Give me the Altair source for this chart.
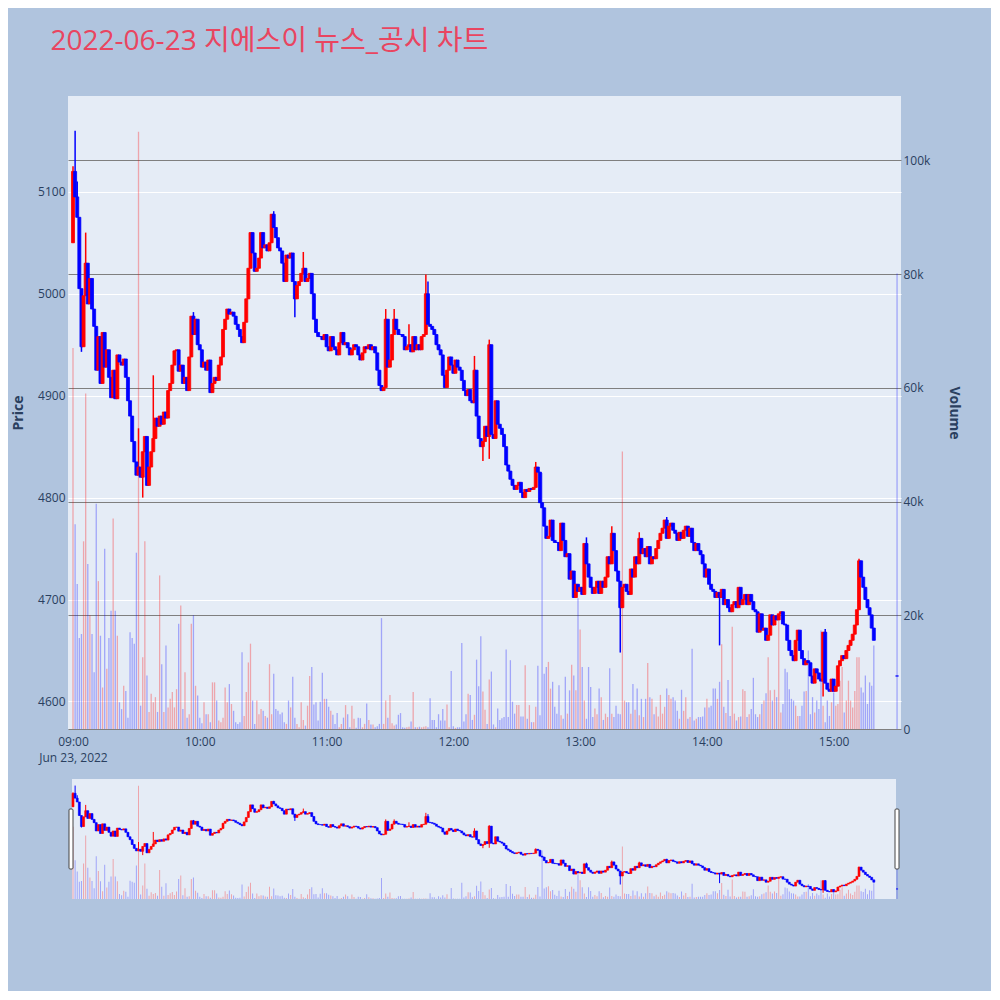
import altair as alt
import pandas as pd

TITLE = "2022-06-23 지에스이 뉴스_공시 차트"
SESSION_START = "2022-06-23 09:00"
AUCTION_TIME = "2022-06-23 15:30"

FIRST_OPEN = 5050
# one close per minute, 09:00 .. 15:19
close = [
    5120, 5095, 5075, 5005, 4948, 4998, 5030, 4990, 5015, 4985,
    4968, 4925, 4958, 4912, 4962, 4928, 4945, 4918, 4898, 4925,
    4897, 4940, 4933, 4930, 4936, 4918, 4895, 4880, 4855, 4835,
    4822, 4830, 4820, 4845, 4860, 4812, 4830, 4845, 4858, 4878,
    4870, 4880, 4872, 4884, 4878, 4905, 4912, 4930, 4944, 4945,
    4924, 4930, 4912, 4918, 4905, 4938, 4978, 4960, 4975, 4950,
    4945, 4928, 4933, 4925, 4935, 4903, 4912, 4918, 4915, 4930,
    4938, 4965, 4975, 4985, 4980, 4982, 4978, 4970, 4965, 4958,
    4952, 4972, 4995, 5025, 5060, 5040, 5022, 5025, 5035, 5060,
    5045, 5048, 5042, 5050, 5078, 5065, 5055, 5045, 5042, 5030,
    5012, 5038, 5035, 5040, 5012, 4995, 5008, 5012, 5020, 5025,
    5012, 5015, 5020, 5000, 4975, 4962, 4958, 4958, 4955, 4960,
    4948, 4944, 4958, 4948, 4945, 4940, 4952, 4962, 4950, 4952,
    4947, 4940, 4945, 4950, 4948, 4940, 4935, 4942, 4948, 4946,
    4950, 4945, 4948, 4942, 4925, 4910, 4905, 4908, 4975, 4928,
    4935, 4960, 4975, 4965, 4960, 4960, 4958, 4945, 4948, 4950,
    4943, 4958, 4945, 4950, 4945, 4958, 4960, 5000, 4970, 4968,
    4965, 4960, 4950, 4945, 4940, 4920, 4908, 4925, 4938, 4930,
    4922, 4935, 4928, 4925, 4915, 4905, 4900, 4906, 4895, 4893,
    4925, 4880, 4858, 4850, 4855, 4870, 4860, 4950, 4862, 4858,
    4895, 4872, 4868, 4862, 4850, 4832, 4826, 4818, 4812, 4808,
    4812, 4815, 4805, 4800, 4808, 4806, 4809, 4808, 4810, 4830,
    4825, 4795, 4790, 4772, 4760, 4762, 4778, 4758, 4756, 4756,
    4748, 4775, 4758, 4742, 4745, 4720, 4728, 4702, 4715, 4708,
    4712, 4705, 4755, 4735, 4722, 4712, 4706, 4712, 4718, 4706,
    4718, 4712, 4722, 4742, 4735, 4765, 4748, 4728, 4718, 4692,
    4712, 4715, 4708, 4705, 4730, 4722, 4742, 4735, 4760, 4745,
    4750, 4742, 4752, 4735, 4742, 4740, 4750, 4758, 4765, 4770,
    4778, 4760, 4772, 4775, 4768, 4765, 4758, 4766, 4760, 4768,
    4772, 4762, 4770, 4756, 4748, 4755, 4748, 4744, 4735, 4722,
    4730, 4715, 4710, 4708, 4702, 4707, 4702, 4710, 4695, 4700,
    4692, 4688, 4695, 4698, 4692, 4712, 4695, 4700, 4705, 4695,
    4705, 4698, 4690, 4688, 4668, 4686, 4670, 4672, 4660, 4665,
    4685, 4675, 4684, 4680, 4686, 4688, 4676, 4675, 4660, 4650,
    4645, 4640, 4660, 4670, 4650, 4642, 4636, 4640, 4638, 4625,
    4618, 4632, 4628, 4622, 4620, 4668, 4618, 4612, 4610, 4622,
    4610, 4615, 4635, 4640, 4645, 4642, 4650, 4655, 4660, 4666,
    4675, 4690, 4738, 4722, 4712, 4700, 4692, 4685, 4672, 4660,
]
AUCTION_PRICE = 4625

# minute index -> wick extreme
wick_high = {0: 5125, 1: 5160, 2: 5110, 6: 5060, 31: 4868, 38: 4920, 57: 4982,
             95: 5081, 109: 5041, 148: 4985, 152: 4985, 159: 4970, 167: 5019,
             168: 5012, 190: 4939, 197: 4955, 219: 4835, 243: 4761, 255: 4772,
             268: 4766, 281: 4781, 356: 4671, 372: 4740}
wick_low = {4: 4943, 33: 4800, 105: 4977, 194: 4836, 197: 4838, 259: 4648,
            306: 4655, 355: 4605}

# volume in thousands of shares, one per minute
volume_k = [
    67, 36, 25.5, 16, 16.7, 33, 59, 29, 20, 16.7,
    10, 39.6, 26, 16.4, 7.3, 31.7, 10.6, 16, 20.8, 37,
    20.8, 16.4, 4.7, 3.5, 7.6, 6.7, 2, 17, 16, 15,
    31, 105, 4.1, 12.6, 33, 9.4, 3, 6.2, 4.7, 5.6,
    3, 27, 11.4, 3, 14.7, 3.8, 5.3, 6.5, 3.8, 7,
    18.5, 21.7, 3.5, 10, 2, 2.6, 18.5, 20, 7.6, 5.9,
    2, 1, 4.7, 2.6, 2.6, 1.2, 8.2, 8.2, 5, 1.5,
    1.2, 2, 7.3, 4.7, 7.9, 4.4, 3.2, 1.2, 0.9, 1.2,
    13.5, 2.3, 6.5, 11.7, 15, 5, 0.9, 5, 2.6, 3.5,
    3.2, 2.3, 2, 11.4, 2.6, 9.7, 3.5, 3.2, 2.6, 2.9,
    1.2, 0.9, 5, 3.8, 9.2, 2, 0.9, 0.3, 4.7, 1.6,
    0.6, 4.1, 9.3, 10.9, 4.3, 4.7, 1.5, 4.8, 9.9, 5.3,
    5.3, 3.9, 3.2, 2.5, 0.9, 2.8, 0.3, 0.9, 2, 4.2,
    2.6, 0.3, 4.1, 1.8, 0.2, 2, 1.9, 0.3, 0.9, 4.5,
    1.6, 0.8, 0.8, 0.3, 0.5, 0.9, 19.5, 0.9, 5, 2,
    6, 1, 0.6, 0.8, 2.5, 2.8, 0.3, 0.2, 0.3, 0.4,
    1.3, 6.5, 0.3, 0.3, 0.4, 0.3, 0.4, 0.5, 0.3, 5.4,
    1.6, 1.6, 0.3, 2.6, 1.5, 3.5, 1.5, 4.3, 0.3, 10.2,
    0.5, 0.2, 0.3, 0.3, 15.1, 1.3, 2.6, 6.2, 6, 1.6,
    2.5, 12.2, 7.5, 16.3, 6.6, 3.4, 0.9, 8.7, 10.1, 0.8,
    0.3, 3.6, 1.6, 1.9, 2.1, 14, 2.1, 12.1, 4.8, 2.7,
    4.2, 4.2, 2.2, 2.2, 11.2, 1.8, 4.2, 1.2, 1.2, 3.9,
    11.1, 2.4, 45, 9.7, 10.9, 11.8, 7.1, 8.3, 3.9, 2.7,
    7.7, 2.4, 1.8, 9.2, 2.7, 6.8, 11.3, 9.4, 6.8, 23,
    17.5, 10.9, 5, 1.8, 10.9, 7.4, 2.1, 3.6, 2.6, 7.1,
    5.6, 1.6, 2.7, 2.1, 10.7, 2.7, 2.1, 4.1, 2.7, 2.6,
    48.8, 5, 4.7, 4.7, 2.7, 7.9, 3.4, 7.1, 2.4, 5.3,
    2.1, 5.3, 11.6, 5.6, 5.3, 2.6, 3.9, 2.2, 6, 2.7,
    3.9, 7.1, 6, 5.3, 5.6, 5, 3.2, 1.8, 6.9, 3.2,
    5.6, 1.8, 2.1, 14.1, 1.5, 1.8, 2.1, 2.1, 2.2, 3.8,
    5.3, 3.8, 4.1, 7.1, 7.1, 5.3, 8.3, 14.9, 3.9, 2.8,
    8.6, 2.3, 18, 2.7, 1.5, 2.1, 2.2, 7, 6.7, 2.1,
    2.6, 3.5, 9, 2.6, 2.1, 2.6, 4.4, 5, 6.3, 12.6,
    6.8, 5, 6.9, 5.6, 19.4, 2.9, 4.4, 10.6, 10, 7,
    5.3, 5, 4.1, 2.3, 2.3, 4.1, 6.6, 6.7, 13.8, 2.6,
    5.6, 2.9, 5, 3.5, 17.3, 4.1, 1.2, 5, 2.3, 4.7,
    6.4, 4.1, 4.4, 8.5, 10.9, 2.9, 5, 8.5, 5, 3.8,
    6.7, 12.6, 12.6, 7.3, 6.4, 9.4, 4.4, 8.2, 7.6, 14.7,
]
AUCTION_VOLUME_K = 80.1

price_ticks = [4600, 4700, 4800, 4900, 5000, 5100]
volume_ticks = [0, 20, 40, 60, 80, 100]
hour_ticks = [9, 10, 11, 12, 13, 14, 15]

# ---- table ----
times = list(pd.date_range(SESSION_START, periods=len(close), freq="min")) + [pd.Timestamp(AUCTION_TIME)]
closes = close + [AUCTION_PRICE]
opens = [FIRST_OPEN] + close[:-1] + [AUCTION_PRICE]
highs, lows, dirs = [], [], []
for i, (o, c) in enumerate(zip(opens, closes)):
    highs.append(max(o, c, wick_high.get(i, o)))
    lows.append(min(o, c, wick_low.get(i, o)))
    dirs.append("up" if c > o else "down")
df = pd.DataFrame({"t": times, "open": opens, "high": highs, "low": lows,
                   "close": closes, "vol": volume_k + [AUCTION_VOLUME_K], "dir": dirs})

FONT = "Open Sans"
KFONT = "Open Sans, Noto Sans CJK KR"
AX = "#2a3f5f"


def dt(h, m=0, s=0):
    return alt.DateTime(year=2022, month=6, date=23, hours=h, minutes=m, seconds=s)


x_scale = alt.Scale(domain=[dt(8, 57, 38), dt(15, 31, 52)], nice=False, padding=0)
price_scale = alt.Scale(domain=[4573, 5194], nice=False, zero=False)
vol_scale = alt.Scale(domain=[0, 111.3], nice=False)
color_scale = alt.Scale(domain=["up", "down"], range=["#ff0000", "#0000ff"])

x_axis = alt.Axis(
    values=[dt(h) for h in hour_ticks],
    labelExpr="hours(datum.value) == 9 ? [timeFormat(datum.value, '%H:%M'), timeFormat(datum.value, '%b %d, %Y')] : timeFormat(datum.value, '%H:%M')",
    grid=False, ticks=False, domain=False, labelPadding=7, labelLineHeight=16,
    labelFont=FONT, labelFontSize=12, labelColor=AX, title=None,
    labelFlush=False, labelOverlap=False,
)
price_axis = alt.Axis(
    orient="left", values=price_ticks, format="d", grid=True, gridColor="#ffffff",
    gridWidth=1, ticks=False, domain=False, labelFont=FONT, labelFontSize=12,
    labelColor=AX, labelPadding=3, title="Price", titleFont=FONT,
    titleFontSize=14, titleFontWeight="bold", titleColor=AX, titlePadding=12,
)
vol_axis = alt.Axis(
    orient="right", values=volume_ticks,
    labelExpr="datum.value == 0 ? '0' : datum.value + 'k'",
    grid=True, gridColor="#7f7f7f", gridWidth=1, ticks=False, domain=False,
    labelFont=FONT, labelFontSize=12, labelColor=AX, labelPadding=2,
    title="Volume", titleFont=FONT, titleFontSize=14, titleFontWeight="bold",
    titleColor=AX, titlePadding=17,
)

base = alt.Chart(df)
col = alt.Color("dir:N", scale=color_scale, legend=None)
stk = alt.Stroke("dir:N", scale=color_scale, legend=None)

vol_main = base.mark_bar(size=1.3, opacity=0.3).encode(
    x=alt.X("t:T", scale=x_scale, axis=x_axis),
    y=alt.Y("vol:Q", scale=vol_scale, axis=vol_axis),
    color=col,
)
wick_main = base.mark_rule(strokeWidth=1.5).encode(
    x=alt.X("t:T", scale=x_scale, axis=x_axis),
    y=alt.Y("low:Q", scale=price_scale, axis=price_axis),
    y2="high:Q",
    color=col,
)
body_main = base.mark_bar(size=3, strokeWidth=0.8).encode(
    x=alt.X("t:T", scale=x_scale, axis=x_axis),
    y=alt.Y("open:Q", scale=price_scale, axis=None),
    y2="close:Q",
    color=col, stroke=stk,
)
main = alt.layer(vol_main, wick_main, body_main).resolve_scale(y="independent").properties(
    width=833, height=633
)

# ---- range slider ----
one = alt.Chart(pd.DataFrame({"k": [0]}))
slider_bg = one.mark_rect(color="#e5ecf6").encode(
    x=alt.value(4), x2=alt.value(828), y=alt.value(0), y2=alt.value(120)
)
vol_s = base.mark_bar(size=1, opacity=0.3).encode(
    x=alt.X("t:T", scale=x_scale, axis=None),
    y=alt.Y("vol:Q", scale=vol_scale, axis=None),
    color=col,
)
wick_s = base.mark_rule(strokeWidth=1).encode(
    x=alt.X("t:T", scale=x_scale, axis=None),
    y=alt.Y("low:Q", scale=price_scale, axis=None),
    y2="high:Q",
    color=col,
)
body_s = base.mark_bar(size=2, strokeWidth=0.6).encode(
    x=alt.X("t:T", scale=x_scale, axis=None),
    y=alt.Y("open:Q", scale=price_scale, axis=None),
    y2="close:Q",
    color=col, stroke=stk,
)
handle_l = one.mark_rect(fill="#ffffff", stroke="#444444", strokeWidth=1, cornerRadius=1).encode(
    x=alt.value(1), x2=alt.value(5), y=alt.value(30), y2=alt.value(90)
)
handle_r = one.mark_rect(fill="#ffffff", stroke="#444444", strokeWidth=1, cornerRadius=1).encode(
    x=alt.value(827), x2=alt.value(831), y=alt.value(30), y2=alt.value(90)
)
slider = alt.layer(slider_bg, vol_s, wick_s, body_s, handle_l, handle_r).resolve_scale(
    y="independent"
).properties(width=833, height=120, view=alt.ViewBackground(fill="#b0c4de", strokeWidth=0))

chart = alt.vconcat(main, slider, spacing=16).properties(
    title=alt.TitleParams(
        text=TITLE, anchor="start", frame="bounds", dx=39, offset=40,
        fontSize=28, font=KFONT, fontWeight="normal", color="#E94560",
    ),
    background="#b0c4de",
    padding={"left": 3, "top": 20, "right": 30, "bottom": 92},
).configure_view(fill="#e5ecf6", strokeWidth=0)

chart.save("out.html", embed_options={"renderer": "svg", "actions": False})
